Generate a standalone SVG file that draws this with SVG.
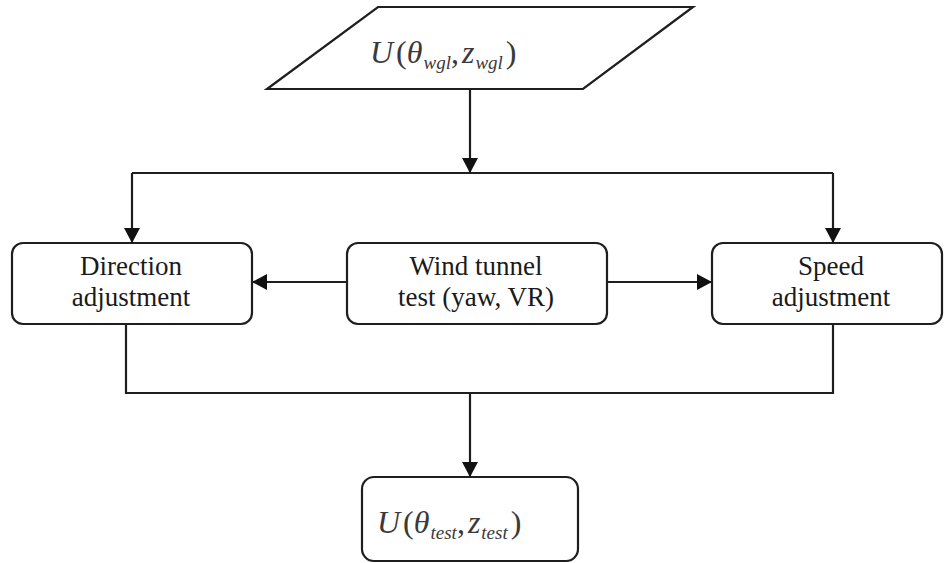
<svg xmlns="http://www.w3.org/2000/svg" width="944" height="563" viewBox="0 0 944 563">
  <defs>
    <style>
      .shape { fill: #ffffff; stroke: #1e1e1e; stroke-width: 2.2; }
      .wire { fill: none; stroke: #1e1e1e; stroke-width: 2.2; }
      .label { font-family: "Liberation Serif", "Times New Roman", serif; font-size: 27px; fill: #1a1a1a; text-anchor: middle; }
      .math { font-family: "Liberation Serif", "Times New Roman", serif; font-size: 32px; fill: #3a3a3a; }
      .it { font-style: italic; }
      .sub { font-style: italic; font-size: 19px; }
    </style>
    <marker id="arrow" markerUnits="userSpaceOnUse" markerWidth="16" markerHeight="16" viewBox="0 0 16 16" refX="15" refY="8" orient="auto">
      <path d="M0,0 L15,8 L0,16 Z" fill="#111111"/>
    </marker>
  </defs>

  <!-- connectors -->
  <g id="connectors">
    <line class="wire" x1="470" y1="89" x2="470" y2="173" marker-end="url(#arrow)"/>
    <path class="wire" d="M132,173 L833,173"/>
    <line class="wire" x1="132" y1="173" x2="132" y2="243" marker-end="url(#arrow)"/>
    <line class="wire" x1="833" y1="173" x2="833" y2="243" marker-end="url(#arrow)"/>
    <line class="wire" x1="347" y1="282" x2="252" y2="282" marker-end="url(#arrow)"/>
    <line class="wire" x1="607" y1="282" x2="712" y2="282" marker-end="url(#arrow)"/>
    <path class="wire" d="M126,324 L126,393 L833,393 L833,324"/>
    <line class="wire" x1="470" y1="393" x2="470" y2="477" marker-end="url(#arrow)"/>
  </g>

  <!-- input: wind at gradient level -->
  <g id="input-wgl">
    <polygon class="shape" points="378,7 693,7 583,89 267,89"/>
    <text class="math" x="370" y="63"><tspan class="it">U</tspan><tspan dx="3">(</tspan><tspan class="it">θ</tspan><tspan class="sub" dx="1" dy="6">wgl</tspan><tspan dy="-6">,</tspan><tspan class="it" dx="3">z</tspan><tspan class="sub" dx="1" dy="6">wgl</tspan><tspan dx="3" dy="-6">)</tspan></text>
  </g>

  <g id="direction-adjustment">
    <rect class="shape" x="12" y="243" width="240" height="81" rx="11"/>
    <text class="label" x="131" y="275">Direction</text>
    <text class="label" x="131" y="306">adjustment</text>
  </g>

  <g id="wind-tunnel-test">
    <rect class="shape" x="347" y="243" width="260" height="81" rx="11"/>
    <text class="label" x="476" y="275">Wind tunnel</text>
    <text class="label" x="476" y="306">test (yaw, VR)</text>
  </g>

  <g id="speed-adjustment">
    <rect class="shape" x="712" y="243" width="230" height="81" rx="11"/>
    <text class="label" x="831" y="275">Speed</text>
    <text class="label" x="831" y="306">adjustment</text>
  </g>

  <!-- output: wind at test level -->
  <g id="output-test">
    <rect class="shape" x="362" y="477" width="216" height="84" rx="12"/>
    <text class="math" x="377" y="533"><tspan class="it">U</tspan><tspan dx="3">(</tspan><tspan class="it">θ</tspan><tspan class="sub" dx="1" dy="6">test</tspan><tspan dy="-6">,</tspan><tspan class="it" dx="3">z</tspan><tspan class="sub" dx="1" dy="6">test</tspan><tspan dx="3" dy="-6">)</tspan></text>
  </g>
</svg>
